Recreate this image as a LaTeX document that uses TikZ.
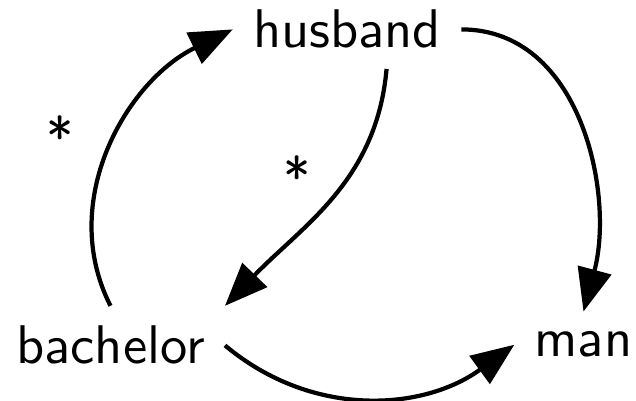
\documentclass[tikz,border=0pt]{standalone}
\usepackage{fontspec}
\newfontfamily\wordfont{lmsans10-regular.otf}
\usepackage{tikz}
\usetikzlibrary{arrows.meta, positioning}

\begin{document}
\begin{tikzpicture}[
  word/.style={font=\wordfont\fontsize{31}{37}\selectfont, inner sep=0.4cm, anchor=base},
  mult/.style={font=\wordfont\fontsize{31}{37}\selectfont, inner sep=0pt, anchor=base},
  link/.style={line width=2.4pt, -{Triangle[length=0.86cm, width=0.68cm]}}]
  \useasboundingbox (0,0) rectangle (12.72,8.02);
  % concepts
  \node[word] (husband) at (6.94,7.06) {husband};
  \node[word] (bachelor) at (2.21,0.74) {bachelor};
  \node[word] (man) at (11.67,0.88) {man};
  % links
  \draw[link] (bachelor.north) to[out=117, in=206] (husband.west);
  \draw[link] (husband.-45) to[out=-95, in=46] (bachelor.north east);
  \draw[link] (husband.east) to[out=0, in=75] (man.north);
  \draw[link] (bachelor.east) to[out=-40, in=216] (man.west);
  % multiplicities
  \node[mult] (star1) at (1.2,4.88) {*};
  \node[mult] (star2) at (5.94,4.08) {*};
\end{tikzpicture}
\end{document}
